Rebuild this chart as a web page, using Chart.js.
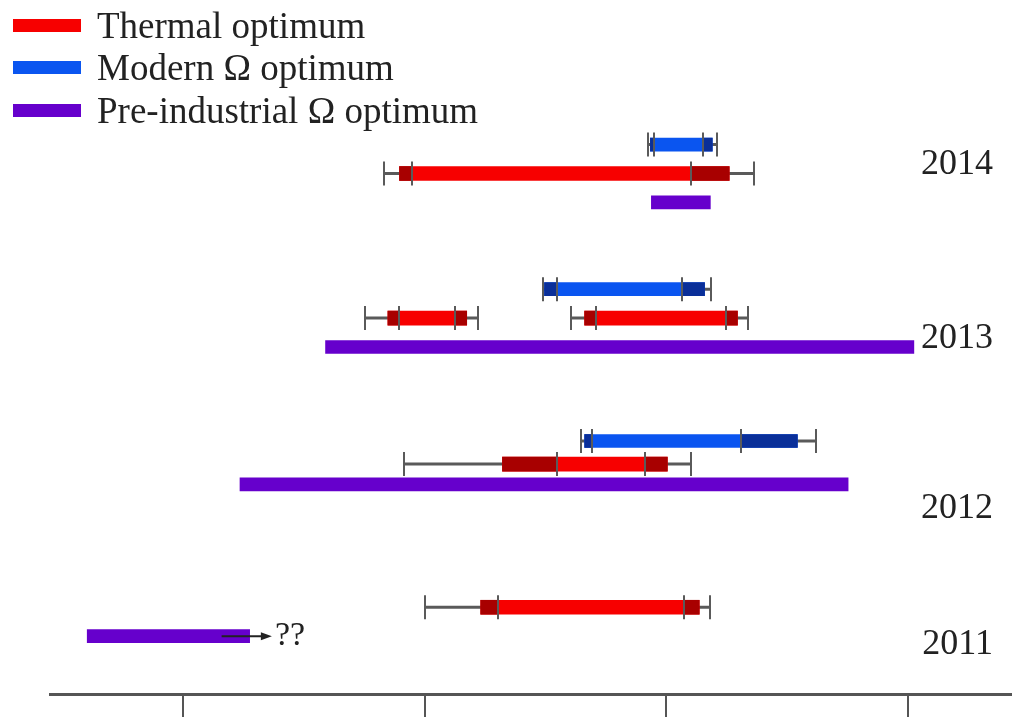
<!DOCTYPE html>
<html>
<head>
<meta charset="utf-8">
<script src="https://cdn.jsdelivr.net/npm/chart.js@4.4.0/dist/chart.umd.min.js"></script>
<style>
  html, body { margin: 0; padding: 0; background: #fff; }
  #wrap { position: relative; width: 1012px; height: 717px; }
  #legend { position: absolute; left: 13px; top: 4px; font-family: 'Liberation Serif', 'Times New Roman', serif; font-size: 37px; color: #222; }
  #legend .row { display: flex; align-items: center; height: 42.5px; }
  #legend .swatch { width: 68px; height: 13px; margin-right: 16px; }
</style>
</head>
<body>
<div id="wrap">
  <canvas id="chart"></canvas>
  <div id="legend"></div>
</div>
<script>
// year groups, written at the right of each group
const years = ['2014', '2013', '2012', '2011'];
const yearRows = [18.3, 12.3, 6.4, 1.7];

// x axis tick marks (no labels in the original)
const tickValues = [10, 15, 20, 25];

// Thermal optimum (red): range + uncertainty of each end
const thermalRows = [18, 13, 13, 7.95, 3];
const thermalRanges = [[14.48, 21.30], [14.24, 15.87], [18.31, 21.47], [16.61, 20.02], [16.16, 20.68]];
const thermalLowErr = [[14.15, 14.73], [13.76, 14.46], [18.02, 18.55], [14.57, 17.73], [15.00, 16.51]];
const thermalHighErr = [[20.50, 21.82], [15.62, 16.10], [21.24, 21.68], [19.55, 20.50], [20.37, 20.91]];

// Modern Ω optimum (blue)
const modernRows = [19, 14, 8.75];
const modernRanges = [[19.67, 20.95], [17.48, 20.79], [18.31, 22.71]];
const modernLowErr = [[19.61, 19.75], [17.44, 17.73], [18.24, 18.47]];
const modernHighErr = [[20.76, 21.05], [20.33, 20.93], [21.55, 23.10]];

// Pre-industrial Ω optimum (purple), no error bars
const preRows = [17, 12, 7.25, 2];
const preRanges = [[19.69, 20.91], [12.95, 25.12], [11.18, 23.76], [8.02, 11.38]];

// 2011 pre-industrial range is open ended
const openEnd = { row: 2, from: 10.8, to: 11.84, text: '??' };

const seriesNames = ['Thermal optimum', 'Modern Ω optimum', 'Pre-industrial Ω optimum'];
const red = '#f70000', darkRed = '#a80000';
const blue = '#0a55f0', darkBlue = '#0a2f99';
const purple = '#6600cc';
const whiskerColor = '#5a5a5a';
const serif = "'Liberation Serif', 'Times New Roman', serif";

function toBars(rows, ranges) {
  return rows.map((row, i) => ({ x: ranges[i], y: row }));
}

// parts of a bar that fall inside its end uncertainty are drawn darker
function overlaps(rows, ranges, low, high) {
  const out = [];
  rows.forEach((row, i) => {
    const [a, b] = ranges[i];
    [low[i], high[i]].forEach(([e0, e1]) => {
      const s = Math.max(a, e0), t = Math.min(b, e1);
      if (t > s) out.push({ x: [s, t], y: row });
    });
  });
  return out;
}

const errorSets = [
  { rows: thermalRows, low: thermalLowErr, high: thermalHighErr },
  { rows: modernRows, low: modernLowErr, high: modernHighErr }
];

const errorBars = {
  id: 'errorBars',
  beforeDatasetsDraw(chart) {
    const { ctx, scales: { x, y } } = chart;
    ctx.save();
    ctx.strokeStyle = whiskerColor;
    ctx.lineWidth = 3;
    errorSets.forEach(s => s.rows.forEach((row, i) => {
      const py = y.getPixelForValue(row);
      ctx.beginPath();
      ctx.moveTo(x.getPixelForValue(s.low[i][0]), py);
      ctx.lineTo(x.getPixelForValue(s.high[i][1]), py);
      ctx.stroke();
    }));
    ctx.restore();
  },
  afterDatasetsDraw(chart) {
    const { ctx, scales: { x, y } } = chart;
    ctx.save();
    // caps
    ctx.strokeStyle = whiskerColor;
    ctx.lineWidth = 2;
    errorSets.forEach(s => s.rows.forEach((row, i) => {
      const py = y.getPixelForValue(row);
      [s.low[i][0], s.low[i][1], s.high[i][0], s.high[i][1]].forEach(v => {
        const px = Math.round(x.getPixelForValue(v));
        ctx.beginPath();
        ctx.moveTo(px, py - 12);
        ctx.lineTo(px, py + 12);
        ctx.stroke();
      });
    }));

    // open end arrow + ??
    const ay = y.getPixelForValue(openEnd.row);
    const ax0 = x.getPixelForValue(openEnd.from);
    const ax1 = x.getPixelForValue(openEnd.to);
    ctx.strokeStyle = '#222';
    ctx.fillStyle = '#222';
    ctx.lineWidth = 2;
    ctx.beginPath();
    ctx.moveTo(ax0, ay);
    ctx.lineTo(ax1 - 8, ay);
    ctx.stroke();
    ctx.beginPath();
    ctx.moveTo(ax1, ay);
    ctx.lineTo(ax1 - 11, ay - 4);
    ctx.lineTo(ax1 - 11, ay + 4);
    ctx.closePath();
    ctx.fill();
    ctx.font = '34px ' + serif;
    ctx.textAlign = 'left';
    ctx.textBaseline = 'middle';
    ctx.fillText(openEnd.text, ax1 + 3, ay);

    // year labels
    ctx.font = '36px ' + serif;
    ctx.textAlign = 'right';
    years.forEach((yr, i) => {
      ctx.fillText(yr, chart.chartArea.right - 19, y.getPixelForValue(yearRows[i]));
    });
    ctx.restore();
  }
};

const ctx = document.getElementById('chart').getContext('2d');

new Chart(ctx, {
  type: 'bar',
  data: {
    datasets: [
      { label: 'thermal dark', data: overlaps(thermalRows, thermalRanges, thermalLowErr, thermalHighErr), backgroundColor: darkRed, barThickness: 14 },
      { label: 'modern dark', data: overlaps(modernRows, modernRanges, modernLowErr, modernHighErr), backgroundColor: darkBlue, barThickness: 13 },
      { label: seriesNames[0], data: toBars(thermalRows, thermalRanges), backgroundColor: red, barThickness: 14 },
      { label: seriesNames[1], data: toBars(modernRows, modernRanges), backgroundColor: blue, barThickness: 13 },
      { label: seriesNames[2], data: toBars(preRows, preRanges), backgroundColor: purple, barThickness: 13 }
    ]
  },
  options: {
    indexAxis: 'y',
    responsive: true,
    maintainAspectRatio: false,
    animation: false,
    events: [],
    datasets: { bar: { grouped: false, borderWidth: 0, borderSkipped: false } },
    layout: { padding: { left: 50, right: 0, top: 0, bottom: 0 } },
    scales: {
      x: {
        type: 'linear',
        min: 7.25,
        max: 27.15,
        offset: false,
        afterBuildTicks: axis => { axis.ticks = tickValues.map(v => ({ value: v })); },
        ticks: { display: false },
        grid: { drawOnChartArea: false, drawTicks: true, tickLength: 23, color: '#555', lineWidth: 2 },
        border: { display: true, color: '#555', width: 3 }
      },
      y: {
        type: 'linear',
        min: 0,
        max: 24,
        offset: false,
        grid: { offset: false },
        display: false
      }
    },
    plugins: {
      legend: { display: false },
      tooltip: { enabled: false }
    }
  },
  plugins: [errorBars]
});

// legend, top left
const legendColors = [red, blue, purple];
const legend = document.getElementById('legend');
seriesNames.forEach((name, i) => {
  const row = document.createElement('div');
  row.className = 'row';
  const sw = document.createElement('span');
  sw.className = 'swatch';
  sw.style.background = legendColors[i];
  const label = document.createElement('span');
  label.textContent = name;
  row.appendChild(sw);
  row.appendChild(label);
  legend.appendChild(row);
});
</script>
</body>
</html>
